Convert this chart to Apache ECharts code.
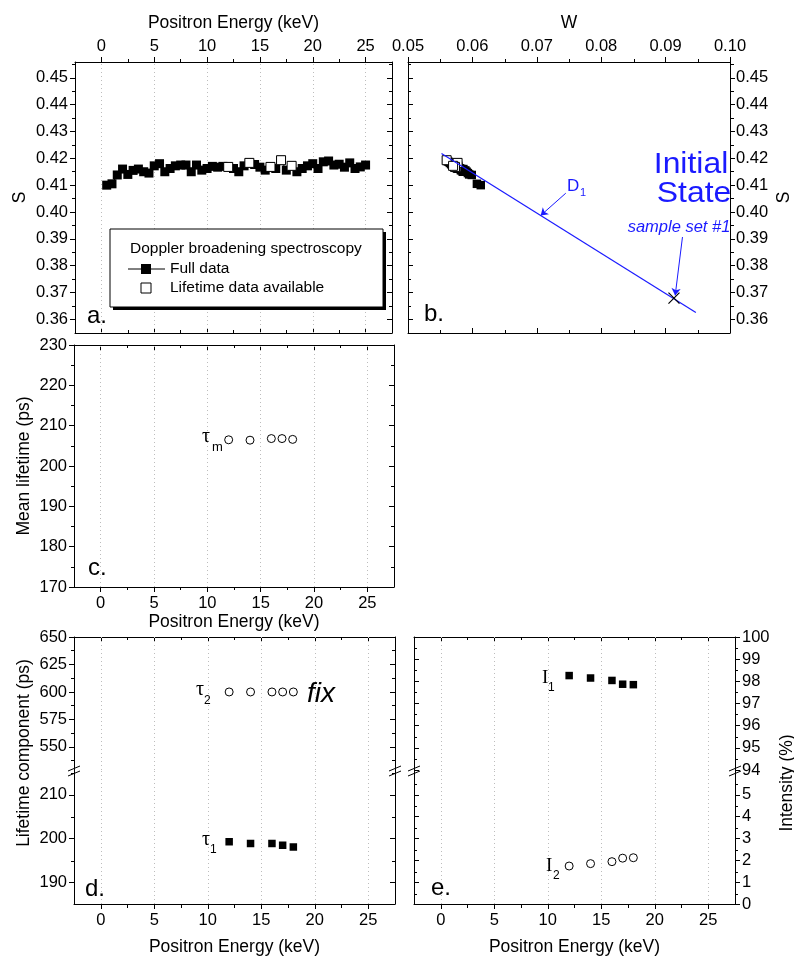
<!DOCTYPE html>
<html><head><meta charset="utf-8">
<script src="https://cdn.jsdelivr.net/npm/echarts@6/dist/echarts.min.js"></script>
<style>html,body{margin:0;padding:0;background:#fff}#c{width:794px;height:957px}</style>
</head><body><div id="c"></div>
<script>
// ---------- data ----------
const energy = [0.5,1,1.5,2,2.5,3,3.5,4,4.5,5,5.5,6,6.5,7,7.5,8,8.5,9,9.5,10,10.5,11,11.5,12,12.5,13,13.5,14,14.5,15,15.5,16,16.5,17,17.5,18,18.5,19,19.5,20,20.5,21,21.5,22,22.5,23,23.5,24,24.5,25];
const sFull = [0.4100,0.4105,0.4138,0.4160,0.4140,0.4155,0.4160,0.4150,0.4145,0.4172,0.4180,0.4150,0.4162,0.4172,0.4175,0.4175,0.4150,0.4175,0.4156,0.4162,0.4170,0.4167,0.4170,0.4168,0.4162,0.4150,0.4172,0.4183,0.4177,0.4167,0.4156,0.4168,0.4162,0.4193,0.4156,0.4172,0.4150,0.4162,0.4172,0.4180,0.4162,0.4187,0.4190,0.4175,0.4178,0.4167,0.4183,0.4162,0.4168,0.4175];
const wFull = [0.0613,0.0607,0.0599,0.0586,0.0595,0.0589,0.0583,0.0591,0.0593,0.0578,0.0571,0.0588,0.0581,0.0576,0.0574,0.0572,0.0587,0.0575,0.0584,0.0580,0.0577,0.0578,0.0576,0.0575,0.0580,0.0586,0.0574,0.0577,0.0571,0.0576,0.0583,0.0573,0.0578,0.0560,0.0582,0.0570,0.0585,0.0578,0.0572,0.0567,0.0577,0.0563,0.0561,0.0569,0.0567,0.0574,0.0565,0.0576,0.0572,0.0569];
const ltEnergy = [12,14,16,17,18];
const ltS = [0.4168,0.4183,0.4168,0.4193,0.4172];
const ltW = [0.0575,0.0577,0.0573,0.0560,0.0570];
const tauMean = [206.5,206.4,206.8,206.8,206.6];
const tau2 = [600,600,600,600,600];
const tau1 = [199.3,198.9,198.9,198.5,198.1];
const int1 = [98.26,98.15,98.04,97.87,97.85];
const int2 = [1.74,1.85,1.94,2.10,2.12];
const lineD1W = [0.0552,0.0947];
const lineD1S = [0.4218,0.3625];
const initW = [0.0913];
const initS = [0.3679];
// tick labels
const energyTicks = [0,5,10,15,20,25];
const energyMinor = [2.5,7.5,12.5,17.5,22.5];
const sTicks = [0.36,0.37,0.38,0.39,0.40,0.41,0.42,0.43,0.44,0.45];
const sMinor = [0.365,0.375,0.385,0.395,0.405,0.415,0.425,0.435,0.445,0.455];
const wTicks = [0.05,0.06,0.07,0.08,0.09,0.10];
const wMinor = [0.055,0.065,0.075,0.085,0.095];
const tauMTicks = [170,180,190,200,210,220,230];
const tauMMinor = [175,185,195,205,215,225];
const tau2Ticks = [550,575,600,625,650];
const tau2Minor = [537.5,562.5,587.5,612.5,637.5];
const tau1Ticks = [190,200,210];
const tau1Minor = [195,205,215];
const i1Ticks = [94,95,96,97,98,99,100];
const i1Minor = [94.5,95.5,96.5,97.5,98.5,99.5];
const i2Ticks = [0,1,2,3,4,5];
const i2Minor = [0.5,1.5,2.5,3.5,4.5,5.5];

// ---------- helpers ----------
const F = '"Liberation Sans", Arial, sans-serif';
const SERIF = '"Liberation Serif", "Times New Roman", serif';
const BLUE = '#1a1aff';
const grids = [], xA = [], yA = [], series = [], graphics = [];
function grid(r){ grids.push({left:r.l, top:r.t, width:r.w, height:r.h, containLabel:false, show:false}); return grids.length-1; }
function axis(list, g, pos, min, max, vals, len, inside, o){
  o = o || {};
  const a = {gridIndex:g, type:'value', position:pos, min:min, max:max,
    axisLine:{show:o.line!==false, onZero:false, lineStyle:{color:'#000', width:1}},
    axisTick:{show:true, inside:inside, length:len, customValues:vals, lineStyle:{color:'#000', width:1}},
    axisLabel: o.labels ? {show:true, customValues:o.labels, formatter:o.fmt||(v=>String(v)), color:'#000', fontFamily:F, fontSize:16.5, margin:o.margin} : {show:false},
    splitLine:{show:false}, minorTick:{show:false}, minorSplitLine:{show:false}
  };
  if (o.name){
    a.name = o.name; a.nameLocation = 'middle'; a.nameGap = o.nameGap;
    a.nameTextStyle = {color:'#000', fontFamily:F, fontSize:17.5};
    if (list === yA) a.nameRotate = 90;
  }
  list.push(a); return list.length-1;
}
function panel(r, xr, yr, xT, xM, yT, yM, xs, ys){
  const g = grid(r), gm = grid(r);
  const xi = xs.map(s => { const i = axis(xA, g, s.pos, xr[0], xr[1], xT, 5, !s.out, s); axis(xA, gm, s.pos, xr[0], xr[1], xM, 3, !s.out, {line:false}); return i; });
  const yi = ys.map(s => { const i = axis(yA, g, s.pos, yr[0], yr[1], yT, 5, !s.out, s); axis(yA, gm, s.pos, yr[0], yr[1], yM, 3, !s.out, {line:false}); return i; });
  return {x:xi[0], y:yi[0]};
}
const f2 = v => v.toFixed(2);
const ER = [-2.5, 27.5];
const gridLines = () => ({silent:true, z:1, symbol:'none', label:{show:false}, animation:false,
  lineStyle:{type:[1,3], color:'#bdbdbd', width:1}, data: energyTicks.map(v => ({xAxis:v}))});
const pts = (xs, ys) => xs.map((x,i) => [x, ys[i]]);
const openSq = {color:'#fff', borderColor:'#000', borderWidth:1, opacity:1};
const solid = {color:'#000', opacity:1};

// ---------- panels ----------
const A = panel({l:75,t:62,w:317,h:271}, ER, [0.3549,0.4559], energyTicks, energyMinor, sTicks, sMinor,
  [{pos:'top', out:true, labels:energyTicks, name:'Positron Energy (keV)', nameGap:30, margin:7}, {pos:'bottom', out:false}],
  [{pos:'left', out:true, labels:sTicks, fmt:f2, name:'S', nameGap:46, margin:7}, {pos:'right', out:false}]);
const B = panel({l:408,t:62,w:323,h:271}, [0.05,0.10], [0.3549,0.4559], wTicks, wMinor, sTicks, sMinor,
  [{pos:'top', out:true, labels:wTicks, fmt:f2, name:'W', nameGap:30, margin:7}, {pos:'bottom', out:false}],
  [{pos:'right', out:true, labels:sTicks, fmt:f2, name:'S', nameGap:45, margin:6}, {pos:'left', out:false}]);
const C = panel({l:74,t:345,w:320,h:242}, ER, [170,230], energyTicks, energyMinor, tauMTicks, tauMMinor,
  [{pos:'bottom', out:true, labels:energyTicks, name:'Positron Energy (keV)', nameGap:25, margin:8}, {pos:'top', out:false}],
  [{pos:'left', out:true, labels:tauMTicks, name:'Mean lifetime (ps)', nameGap:41, margin:7}, {pos:'right', out:false}]);
const Dt = panel({l:74,t:637,w:321,h:133}, ER, [529,650], energyTicks, energyMinor, tau2Ticks, tau2Minor,
  [{pos:'top', out:false}],
  [{pos:'left', out:true, labels:tau2Ticks, margin:7}, {pos:'right', out:false}]);
const Db = panel({l:74,t:770,w:321,h:135}, ER, [185.1,215.66], energyTicks, energyMinor, tau1Ticks, tau1Minor,
  [{pos:'bottom', out:true, labels:energyTicks, name:'Positron Energy (keV)', nameGap:34, margin:8}],
  [{pos:'left', out:true, labels:tau1Ticks, margin:7}, {pos:'right', out:false}]);
const Et = panel({l:414,t:637,w:321,h:133}, ER, [94,100], energyTicks, energyMinor, i1Ticks, i1Minor,
  [{pos:'top', out:false}],
  [{pos:'right', out:true, labels:i1Ticks, margin:7}, {pos:'left', out:false}]);
const Eb = panel({l:414,t:770,w:321,h:135}, ER, [0,6.14], energyTicks, energyMinor, i2Ticks, i2Minor,
  [{pos:'bottom', out:true, labels:energyTicks, name:'Positron Energy (keV)', nameGap:34, margin:8}],
  [{pos:'right', out:true, labels:i2Ticks, margin:7}, {pos:'left', out:false}]);

// ---------- series ----------
series.push({name:'Full data', type:'line', xAxisIndex:A.x, yAxisIndex:A.y, data:pts(energy,sFull), symbol:'rect', symbolSize:9,
  itemStyle:solid, lineStyle:{color:'#000', width:1}, z:3, markLine:gridLines()});
series.push({name:'Lifetime data available', type:'scatter', xAxisIndex:A.x, yAxisIndex:A.y, data:pts(ltEnergy,ltS), symbol:'rect', symbolSize:9, itemStyle:openSq, z:4});

series.push({type:'scatter', xAxisIndex:B.x, yAxisIndex:B.y, data:pts(wFull,sFull), symbol:'rect', symbolSize:8.5, itemStyle:solid, z:3});
series.push({type:'scatter', xAxisIndex:B.x, yAxisIndex:B.y, data:pts(ltW,ltS), symbol:'rect', symbolSize:9, itemStyle:openSq, z:4});
series.push({type:'line', xAxisIndex:B.x, yAxisIndex:B.y, data:pts(lineD1W,lineD1S), symbol:'none', lineStyle:{color:BLUE, width:1.2}, z:5,
  markLine:{silent:true, symbol:['none','arrow'], symbolSize:7, label:{show:false}, lineStyle:{color:BLUE, width:1, type:'solid'},
    data:[[{coord:[0.0745,0.4070]},{coord:[0.0706,0.3987]}],[{coord:[0.09262,0.39067]},{coord:[0.09149,0.36892]}]]}});
series.push({type:'scatter', xAxisIndex:B.x, yAxisIndex:B.y, data:pts(initW,initS), symbol:'path://M0,0L10,10M10,0L0,10', symbolSize:11,
  itemStyle:{color:'transparent', borderColor:'#000', borderWidth:1.2, opacity:1}, z:6});

series.push({type:'scatter', xAxisIndex:C.x, yAxisIndex:C.y, data:pts(ltEnergy,tauMean), symbol:'circle', symbolSize:8, itemStyle:openSq, z:3, markLine:gridLines()});
series.push({type:'scatter', xAxisIndex:Dt.x, yAxisIndex:Dt.y, data:pts(ltEnergy,tau2), symbol:'circle', symbolSize:8, itemStyle:openSq, z:3, markLine:gridLines()});
series.push({type:'scatter', xAxisIndex:Db.x, yAxisIndex:Db.y, data:pts(ltEnergy,tau1), symbol:'rect', symbolSize:7.5, itemStyle:solid, z:3, markLine:gridLines()});
series.push({type:'scatter', xAxisIndex:Et.x, yAxisIndex:Et.y, data:pts(ltEnergy,int1), symbol:'rect', symbolSize:7.5, itemStyle:solid, z:3, markLine:gridLines()});
series.push({type:'scatter', xAxisIndex:Eb.x, yAxisIndex:Eb.y, data:pts(ltEnergy,int2), symbol:'circle', symbolSize:8, itemStyle:openSq, z:3, markLine:gridLines()});

// ---------- annotations ----------
function txt(x, y, s, o){
  o = o || {};
  graphics.push({type:'text', x:x, y:y, rotation:o.rot||0, scaleX:o.sx||1, z:50, style:{text:s, fill:o.color||'#000', font:(o.style||'normal')+' '+(o.size||16)+'px '+(o.family||F),
    align:o.align||'left', verticalAlign:o.va||'middle'}});
}
// panel letters
txt(87,316,'a.',{size:24}); txt(424,314,'b.',{size:24}); txt(88,568,'c.',{size:24}); txt(85,889,'d.',{size:24}); txt(431,888,'e.',{size:24});
// rotated axis titles for broken panels
txt(24,753,'Lifetime component (ps)',{size:17.5, align:'center', rot:Math.PI/2});
txt(787,783,'Intensity (%)',{size:17.5, align:'center', rot:Math.PI/2});
// tau / I labels
txt(202,437,'\u03C4',{size:20, family:SERIF}); txt(212,447,'m',{size:13});
txt(196,690,'\u03C4',{size:20, family:SERIF}); txt(204,701,'2',{size:12});
txt(202,840,'\u03C4',{size:20, family:SERIF}); txt(210,850,'1',{size:12});
txt(307,694,'fix',{size:28, style:'italic'});
txt(542,678,'I',{size:19, family:SERIF}); txt(548,688,'1',{size:12});
txt(546,866,'I',{size:19, family:SERIF}); txt(553,876,'2',{size:12});
// panel b annotations
txt(567,186,'D',{size:17, color:BLUE}); txt(580,193,'1',{size:11, color:BLUE});
txt(691,165,'Initial',{size:29, color:BLUE, align:'center', sx:1.1});
txt(694,194,'State',{size:29, color:BLUE, align:'center', sx:1.1});
txt(679,227,'sample set #1',{size:16.5, color:BLUE, align:'center', style:'italic'});
// legend box
graphics.push({type:'rect', z:40, shape:{x:113,y:232,width:273,height:78}, style:{fill:'#000'}});
graphics.push({type:'rect', z:41, shape:{x:110,y:229,width:273,height:78}, style:{fill:'#fff', stroke:'#000', lineWidth:1}});
txt(130,249,'Doppler broadening spectroscopy',{size:15.5});
graphics.push({type:'line', z:42, shape:{x1:128,y1:269,x2:165,y2:269}, style:{stroke:'#000', lineWidth:1}});
graphics.push({type:'rect', z:43, shape:{x:141,y:264,width:10,height:10}, style:{fill:'#000'}});
txt(170,269,'Full data',{size:15.5});
graphics.push({type:'rect', z:43, shape:{x:141,y:283,width:10,height:10}, style:{fill:'#fff', stroke:'#000', lineWidth:1}});
txt(170,288,'Lifetime data available',{size:15.5});
// axis break marks
[74,395,414,735].forEach(x => {
  graphics.push({type:'line', z:45, shape:{x1:x-6,y1:771,x2:x+6,y2:766}, style:{stroke:'#000', lineWidth:1}});
  graphics.push({type:'line', z:45, shape:{x1:x-6,y1:776,x2:x+6,y2:771}, style:{stroke:'#000', lineWidth:1}});
});

const chart = echarts.init(document.getElementById('c'), null, {renderer:'canvas'});
chart.setOption({animation:false, backgroundColor:'#fff', grid:grids, xAxis:xA, yAxis:yA, series:series, graphic:graphics});
</script></body></html>
